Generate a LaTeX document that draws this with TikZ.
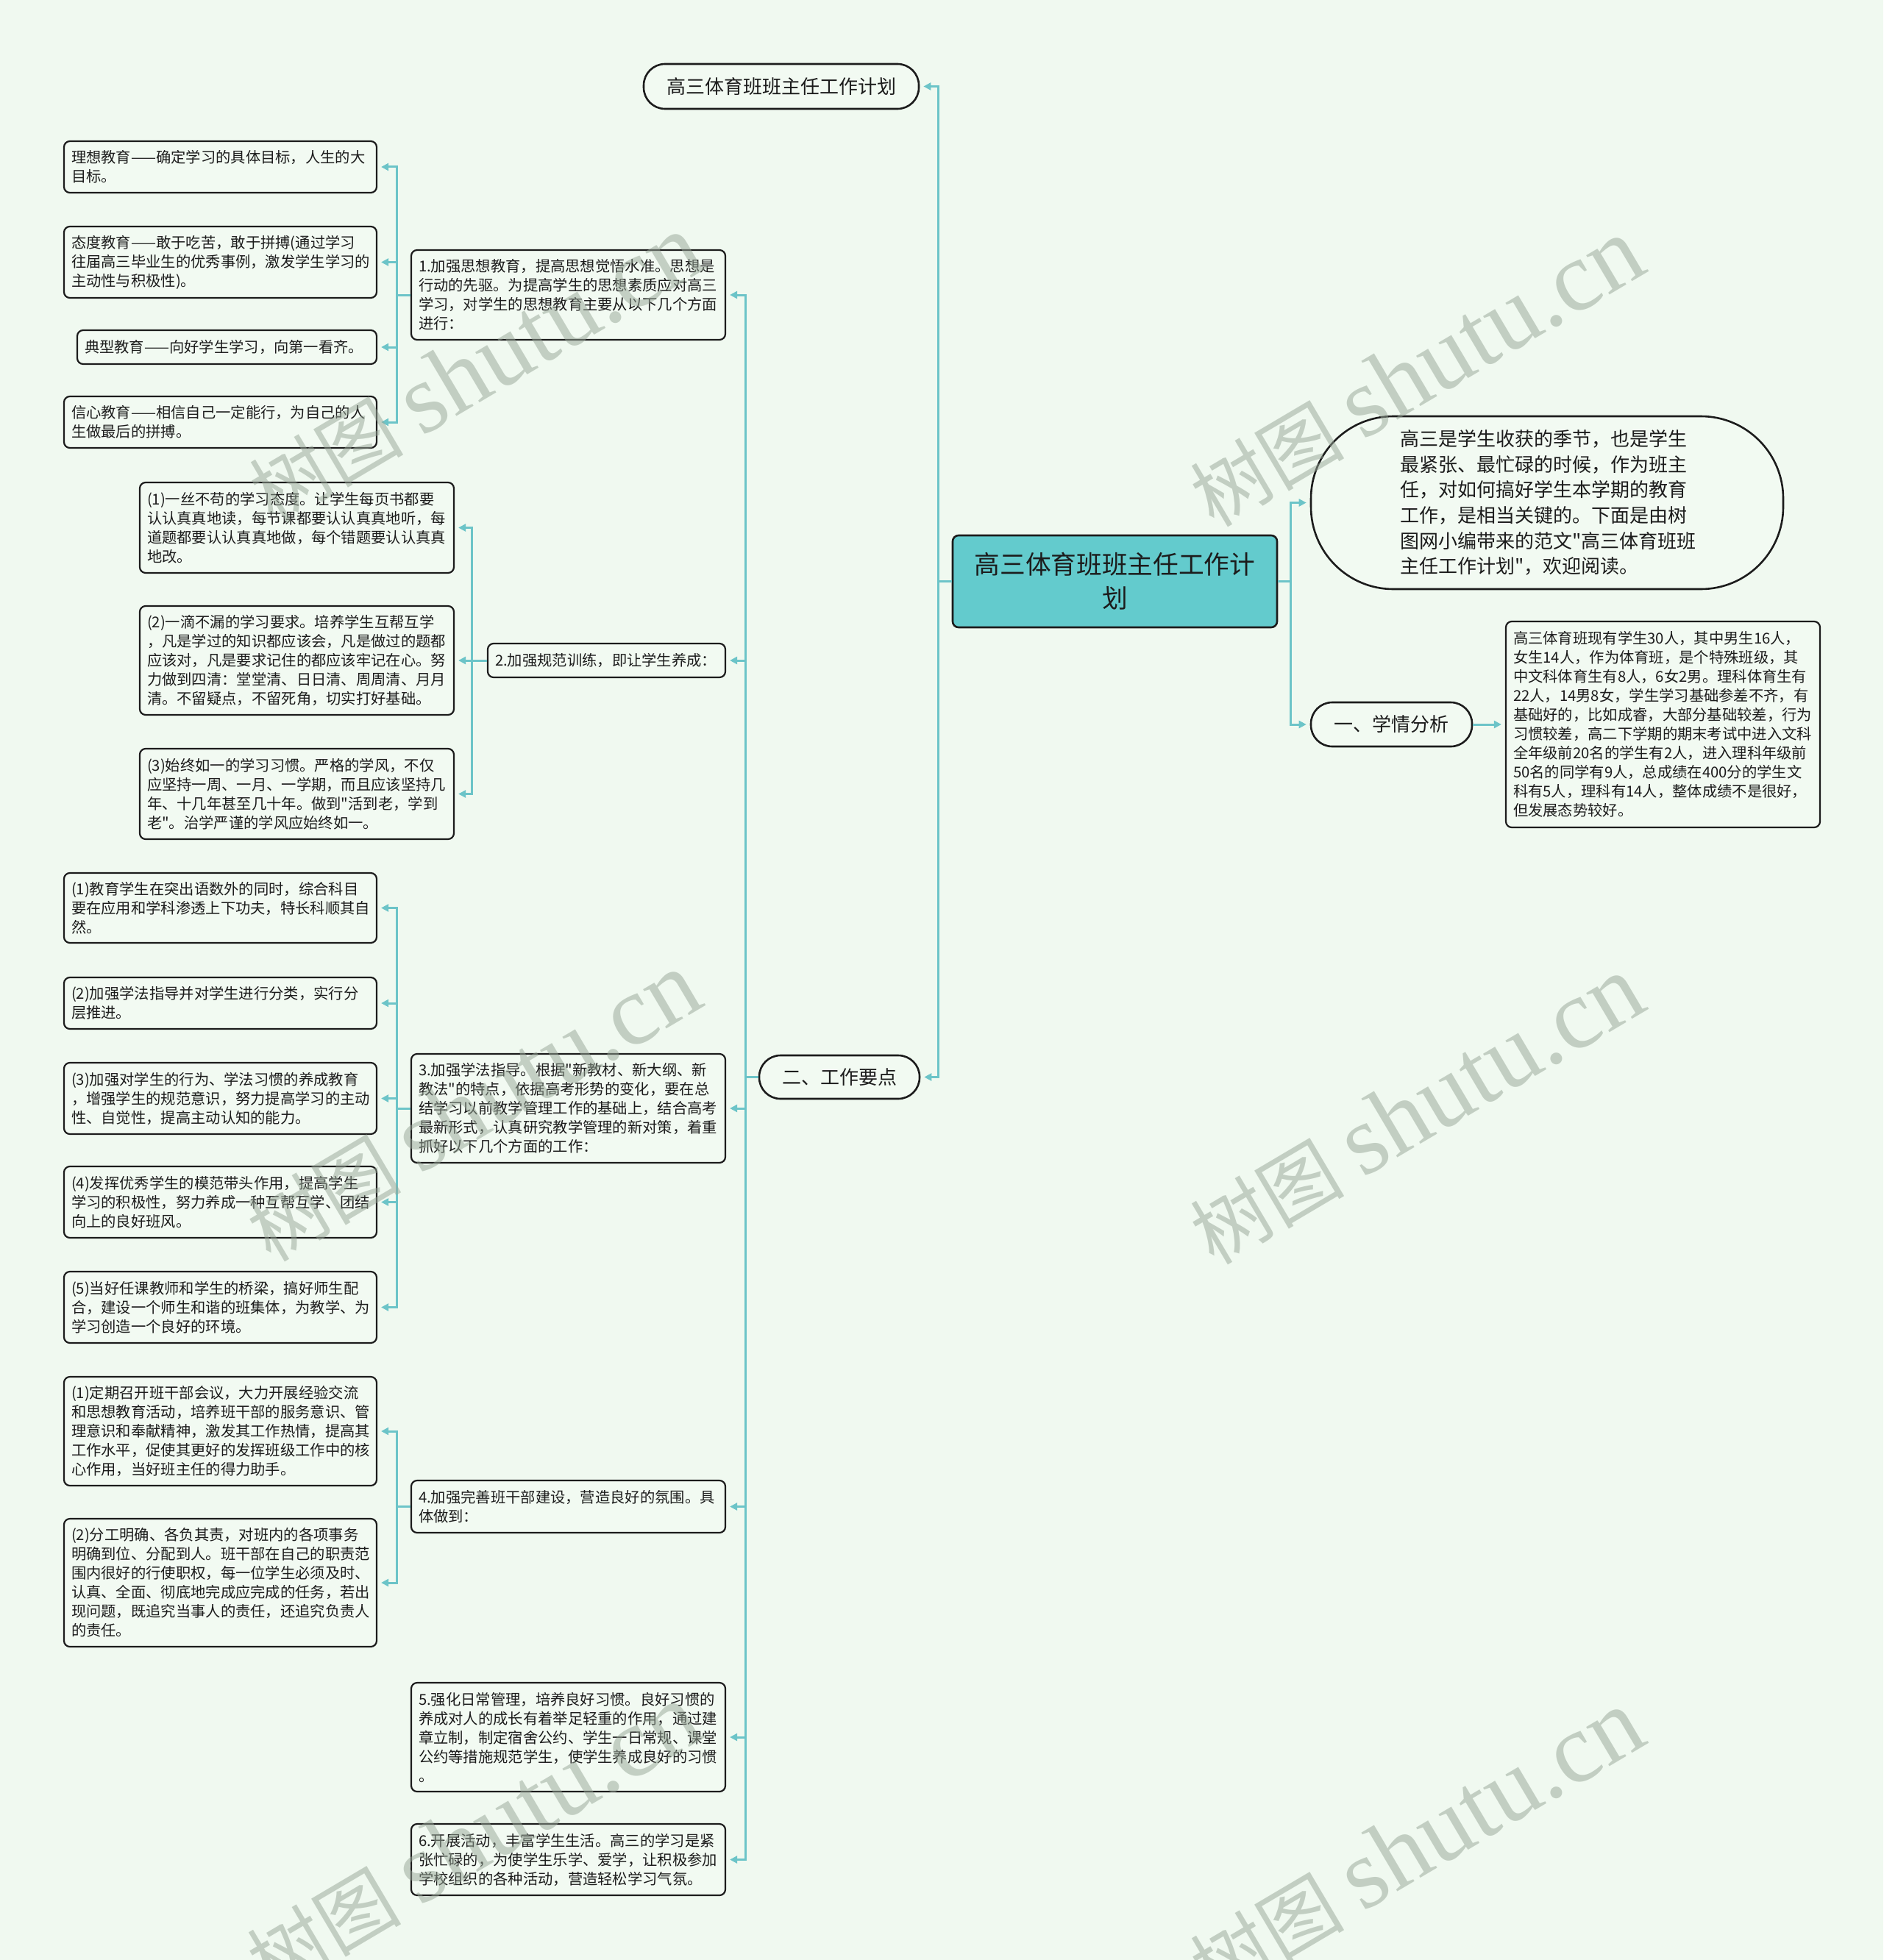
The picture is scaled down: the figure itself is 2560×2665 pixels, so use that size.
\documentclass[tikz,border=0pt]{standalone}
\usepackage{fontspec}
\setmainfont{Noto Sans CJK SC}[Ligatures=TeXOff]
\newfontfamily\wmlatin{Liberation Serif}
\usetikzlibrary{arrows.meta}
\definecolor{bgc}{RGB}{240,249,240}
\definecolor{boxfill}{RGB}{242,250,242}
\definecolor{linec}{RGB}{108,196,200}
\definecolor{rootfill}{RGB}{99,203,205}
\definecolor{boxline}{RGB}{28,28,28}
\definecolor{wmc}{RGB}{150,165,150}
\tikzset{
  conn/.style={draw=linec, line width=3pt, -{Triangle[length=10pt,width=10pt]}, shorten >=5pt},
  box/.style={draw=boxline, line width=2.2pt, fill=boxfill, rounded corners=8pt, align=left,
    inner xsep=10pt, inner ysep=3pt, font=\fontsize{20.3}{26}\selectfont, text=boxline},
  pill/.style={draw=boxline, line width=2.6pt, fill=boxfill, rounded corners=29pt, align=center,
    inner sep=2pt, font=\fontsize{26}{34}\selectfont, text=boxline},
  wm/.style={text=wmc, opacity=0.5, inner sep=0pt},
}
\begin{document}
\begin{tikzpicture}[x=1pt,y=-1pt]
\useasboundingbox (0,0) rectangle (2560,2665);
\fill[bgc] (0,0) rectangle (2560,2665);

% central nodes
\node[draw=boxline, line width=2.6pt, fill=rootfill, rounded corners=8pt, align=center,
  minimum width=441pt, minimum height=125pt, inner sep=2pt,
  font=\fontsize{34.7}{46}\selectfont, text=boxline] (root) at (1515.5,790.5)
  {高三体育班班主任工作计\\划};
\node[pill, minimum width=374pt, minimum height=61pt] (top) at (1062,117.5) {高三体育班班主任工作计划};
\node[pill, minimum width=218pt, minimum height=59pt] (gz) at (1141,1464.5) {二、工作要点};
\node[pill, minimum width=219pt, minimum height=60pt] (xq) at (1891.5,985) {一、学情分析};
\node[draw=boxline, line width=2.6pt, fill=boxfill, rounded corners=112pt, align=left,
  minimum width=642pt, minimum height=235pt, text width=400pt, inner xsep=121pt, inner ysep=2pt,
  font=\fontsize{26}{34.7}\selectfont, text=boxline] (intro) at (2103,683.5)
  {高三是学生收获的季节，也是学生\\最紧张、最忙碌的时候，作为班主\\任，对如何搞好学生本学期的教育\\工作，是相当关键的。下面是由树\\图网小编带来的范文"高三体育班班\\主任工作计划"，欢迎阅读。};
\node[box, text width=407pt, minimum height=280pt] (ana) at (2260.5,985)
  {高三体育班现有学生30人，其中男生16人，\\女生14人，作为体育班，是个特殊班级，其\\中文科体育生有8人，6女2男。理科体育生有\\22人，14男8女，学生学习基础参差不齐，有\\基础好的，比如成睿，大部分基础较差，行为\\习惯较差，高二下学期的期末考试中进入文科\\全年级前20名的学生有2人，进入理科年级前\\50名的同学有9人，总成绩在400分的学生文\\科有5人，理科有14人，整体成绩不是很好，\\但发展态势较好。};

% level 2
\node[box, text width=407pt, minimum height=122pt] (L1) at (772.5,401)
  {1.加强思想教育，提高思想觉悟水准。思想是\\行动的先驱。为提高学生的思想素质应对高三\\学习，对学生的思想教育主要从以下几个方面\\进行：};
\node[box, text width=303pt, minimum height=46pt] (L2) at (824.5,898)
  {2.加强规范训练，即让学生养成：};
\node[box, text width=407pt, minimum height=148pt] (L3) at (772.5,1507)
  {3.加强学法指导。根据"新教材、新大纲、新\\教法"的特点，依据高考形势的变化，要在总\\结学习以前教学管理工作的基础上，结合高考\\最新形式，认真研究教学管理的新对策，着重\\抓好以下几个方面的工作：};
\node[box, text width=407pt, minimum height=71pt] (L4) at (772.5,2048.5)
  {4.加强完善班干部建设，营造良好的氛围。具\\体做到：};
\node[box, text width=407pt, minimum height=148pt] (L5) at (772.5,2362)
  {5.强化日常管理，培养良好习惯。良好习惯的\\养成对人的成长有着举足轻重的作用，通过建\\章立制，制定宿舍公约、学生一日常规、课堂\\公约等措施规范学生，使学生养成良好的习惯\\。};
\node[box, text width=407pt, minimum height=97pt] (L6) at (772.5,2528.5)
  {6.开展活动，丰富学生生活。高三的学习是紧\\张忙碌的，为使学生乐学、爱学，让积极参加\\学校组织的各种活动，营造轻松学习气氛。};

% group 1
\node[box, text width=405pt, minimum height=70pt] (A1) at (299.5,227)
  {理想教育——确定学习的具体目标，人生的大\\目标。};
\node[box, text width=405pt, minimum height=97pt] (A2) at (299.5,356.5)
  {态度教育——敢于吃苦，敢于拼搏(通过学习\\往届高三毕业生的优秀事例，激发学生学习的\\主动性与积极性)。};
\node[box, text width=387pt, minimum height=46pt] (A3) at (308.5,472)
  {典型教育——向好学生学习，向第一看齐。};
\node[box, text width=405pt, minimum height=70pt] (A4) at (299.5,574)
  {信心教育——相信自己一定能行，为自己的人\\生做最后的拼搏。};

% group 2
\node[box, text width=407pt, minimum height=123pt] (B1) at (403.5,717.5)
  {(1)一丝不苟的学习态度。让学生每页书都要\\认认真真地读，每节课都要认认真真地听，每\\道题都要认认真真地做，每个错题要认认真真\\地改。};
\node[box, text width=407pt, minimum height=148pt] (B2) at (403.5,898)
  {(2)一滴不漏的学习要求。培养学生互帮互学\\，凡是学过的知识都应该会，凡是做过的题都\\应该对，凡是要求记住的都应该牢记在心。努\\力做到四清：堂堂清、日日清、周周清、月月\\清。不留疑点，不留死角，切实打好基础。};
\node[box, text width=407pt, minimum height=123pt] (B3) at (403.5,1079.5)
  {(3)始终如一的学习习惯。严格的学风，不仅\\应坚持一周、一月、一学期，而且应该坚持几\\年、十几年甚至几十年。做到"活到老，学到\\老"。治学严谨的学风应始终如一。};

% group 3
\node[box, text width=405pt, minimum height=95pt] (C1) at (299.5,1234.5)
  {(1)教育学生在突出语数外的同时，综合科目\\要在应用和学科渗透上下功夫，特长科顺其自\\然。};
\node[box, text width=405pt, minimum height=70pt] (C2) at (299.5,1364)
  {(2)加强学法指导并对学生进行分类，实行分\\层推进。};
\node[box, text width=405pt, minimum height=97pt] (C3) at (299.5,1493.5)
  {(3)加强对学生的行为、学法习惯的养成教育\\，增强学生的规范意识，努力提高学习的主动\\性、自觉性，提高主动认知的能力。};
\node[box, text width=405pt, minimum height=97pt] (C4) at (299.5,1634.5)
  {(4)发挥优秀学生的模范带头作用，提高学生\\学习的积极性，努力养成一种互帮互学、团结\\向上的良好班风。};
\node[box, text width=405pt, minimum height=97pt] (C5) at (299.5,1777.5)
  {(5)当好任课教师和学生的桥梁，搞好师生配\\合，建设一个师生和谐的班集体，为教学、为\\学习创造一个良好的环境。};

% group 4
\node[box, text width=405pt, minimum height=148pt] (D1) at (299.5,1946)
  {(1)定期召开班干部会议，大力开展经验交流\\和思想教育活动，培养班干部的服务意识、管\\理意识和奉献精神，激发其工作热情，提高其\\工作水平，促使其更好的发挥班级工作中的核\\心作用，当好班主任的得力助手。};
\node[box, text width=405pt, minimum height=174pt] (D2) at (299.5,2152)
  {(2)分工明确、各负其责，对班内的各项事务\\明确到位、分配到人。班干部在自己的职责范\\围内很好的行使职权，每一位学生必须及时、\\认真、全面、彻底地完成应完成的任务，若出\\现问题，既追究当事人的责任，还追究负责人\\的责任。};

% connectors
\foreach \t in {top,gz} \draw[conn] (root.west) -- ++(-18,0) |- (\t.east);
\foreach \t in {intro,xq} \draw[conn] (root.east) -- ++(17,0) |- (\t.west);
\draw[conn] (xq.east) -- (ana.west);
\foreach \t in {L1,L2,L3,L4,L5,L6} \draw[conn] (gz.west) -- ++(-17,0) |- (\t.east);
\foreach \t in {A1,A2,A3,A4} \draw[conn] (L1.west) -- ++(-18,0) |- (\t.east);
\foreach \t in {B1,B2,B3} \draw[conn] (L2.west) -- ++(-20,0) |- (\t.east);
\foreach \t in {C1,C2,C3,C4,C5} \draw[conn] (L3.west) -- ++(-18,0) |- (\t.east);
\foreach \t in {D1,D2} \draw[conn] (L4.west) -- ++(-18,0) |- (\t.east);

% watermarks
\foreach \p/\n in {{(646,502)}/w1,{(1925,507)}/w2,{(643,1505)}/w3,{(1925,1510)}/w4,{(643,2500)}/w5,{(1925,2508)}/w6}
  \node[wm, rotate=30.6] (\n) at \p {\fontsize{105}{105}\selectfont 树图\hspace{25pt}{\wmlatin\fontsize{135}{135}\selectfont shutu.cn}};
\end{tikzpicture}
\end{document}
